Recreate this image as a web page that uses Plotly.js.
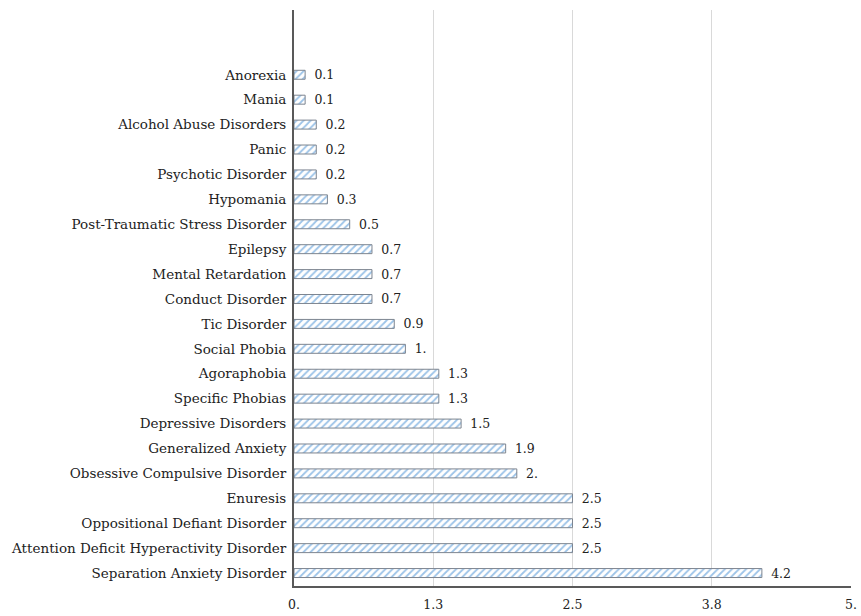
<!DOCTYPE html>
<html><head><meta charset="utf-8">
<script src="https://cdn.plot.ly/plotly-3.0.1.min.js"></script>
<style>body{margin:0;background:#fff}#c{width:861px;height:616px}</style>
</head><body><div id="c"></div>
<script>
const categories = ["Separation Anxiety Disorder","Attention Deficit Hyperactivity Disorder","Oppositional Defiant Disorder","Enuresis","Obsessive Compulsive Disorder","Generalized Anxiety","Depressive Disorders","Specific Phobias","Agoraphobia","Social Phobia","Tic Disorder","Conduct Disorder","Mental Retardation","Epilepsy","Post-Traumatic Stress Disorder","Hypomania","Psychotic Disorder","Panic","Alcohol Abuse Disorders","Mania","Anorexia"];
const values = [4.2,2.5,2.5,2.5,2.0,1.9,1.5,1.3,1.3,1.0,0.9,0.7,0.7,0.7,0.5,0.3,0.2,0.2,0.2,0.1,0.1];
const valueLabels = ["4.2","2.5","2.5","2.5","2.","1.9","1.5","1.3","1.3","1.","0.9","0.7","0.7","0.7","0.5","0.3","0.2","0.2","0.2","0.1","0.1"];
const tickVals = [0,1.25,2.5,3.75,5];
const tickText = ["0.","1.3","2.5","3.8","5."];
const font = "DejaVu Serif, serif";
Plotly.newPlot("c",[{
  type:"bar", orientation:"h", y:categories, x:values,
  text:valueLabels.map(s=>"\u2002"+s), textposition:"outside", cliponaxis:false, constraintext:"none",
  textfont:{family:font,size:12.5,color:"#222"},
  width:0.36,
  marker:{color:"#ffffff",line:{color:"#7d8590",width:1},
    pattern:{shape:"/",fgcolor:"#9cc3e8",bgcolor:"#ffffff",size:5,solidity:0.35}},
  hoverinfo:"none"
}],{
  width:861,height:616,margin:{l:294,r:10,t:10,b:30},
  paper_bgcolor:"#fff",plot_bgcolor:"#fff",showlegend:false,
  font:{family:font,size:12,color:"#222"},
  xaxis:{range:[0,5],tickvals:tickVals,ticktext:tickText,showgrid:true,gridcolor:"#d9d9d9",gridwidth:1,
    zeroline:false,showline:true,linecolor:"#595959",linewidth:2,ticks:"outside",ticklen:6,tickcolor:"rgba(0,0,0,0)",
    tickfont:{family:font,size:12.5,color:"#222"}},
  yaxis:{type:"category",range:[-0.52,22.6],showline:true,linecolor:"#595959",linewidth:2,
    showgrid:false,zeroline:false,ticks:"outside",ticklen:3,tickcolor:"rgba(0,0,0,0)",
    tickfont:{family:font,size:13.5,color:"#222"}}
},{displayModeBar:false,staticPlot:true});
</script></body></html>
